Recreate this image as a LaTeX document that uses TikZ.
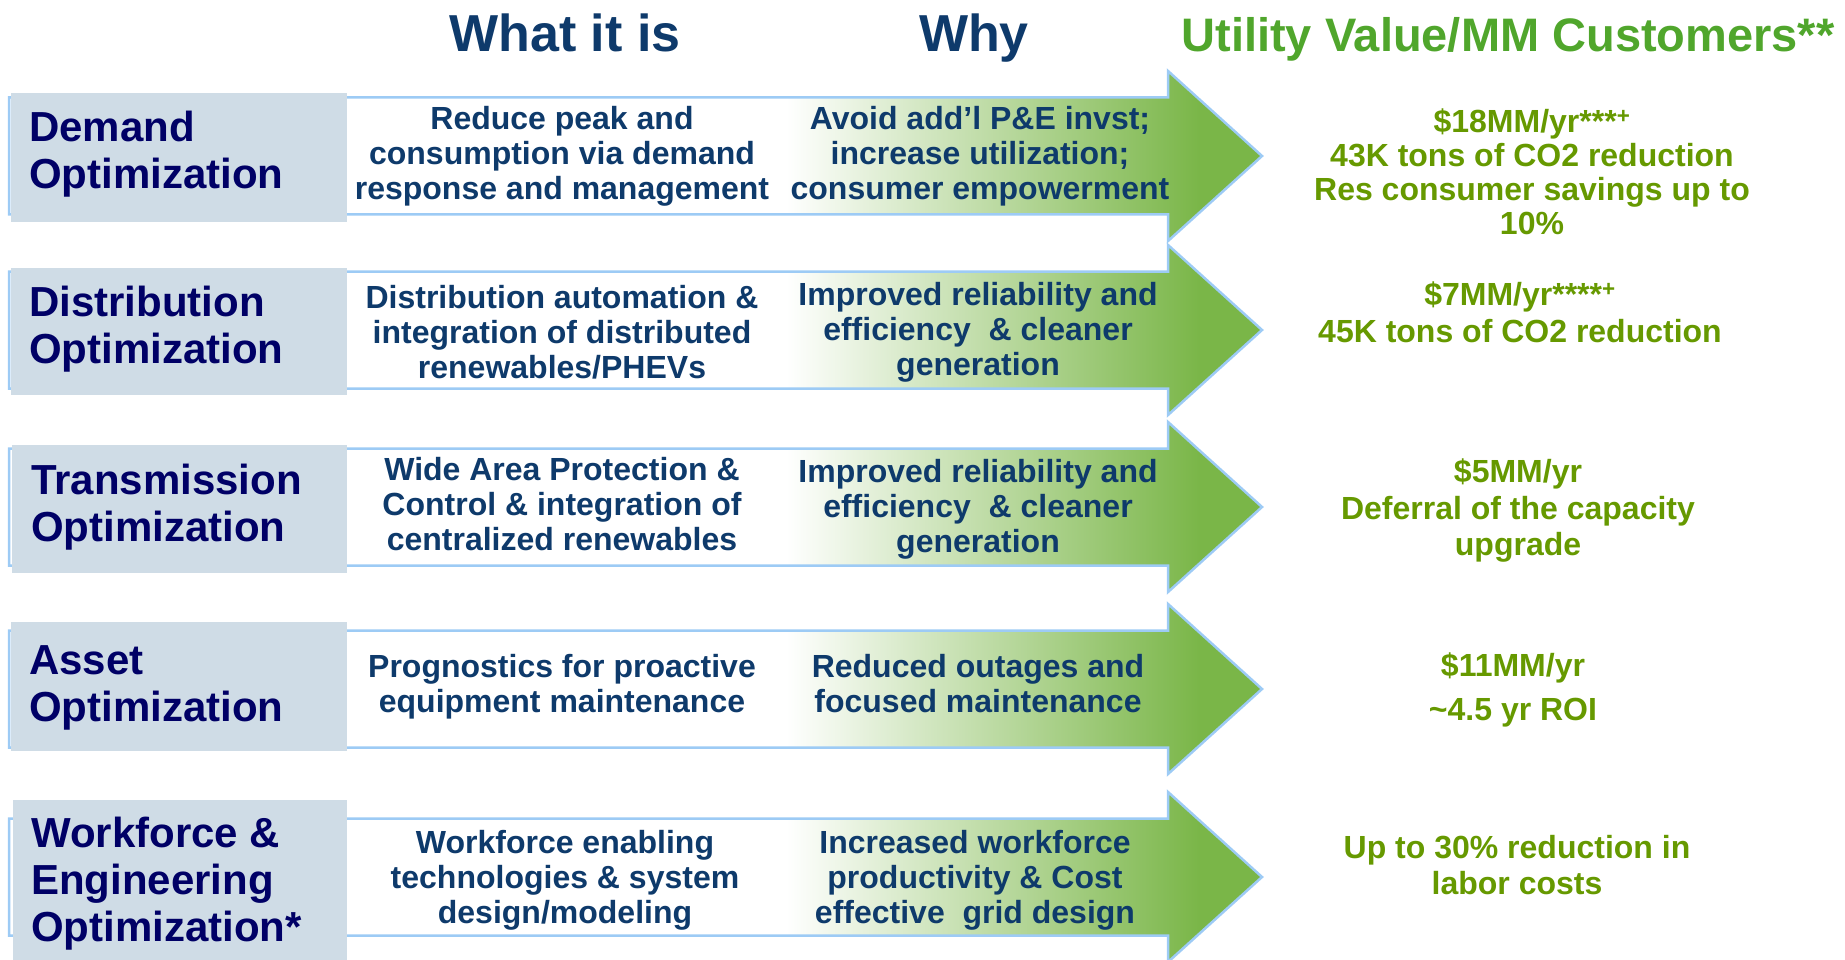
\documentclass[tikz,border=0pt]{standalone}
\usepackage{fontspec}
\setmainfont{Liberation Sans}
\usepackage{tikz}

\definecolor{rowgrey}{RGB}{207,220,230}
\definecolor{edgeblue}{RGB}{157,203,245}
\definecolor{arrowgreen}{RGB}{122,182,72}
\definecolor{labelnavy}{RGB}{0,0,102}
\definecolor{textnavy}{RGB}{14,58,107}
\definecolor{titlegreen}{RGB}{80,166,44}
\definecolor{valuegreen}{RGB}{102,153,0}
\pgfdeclarehorizontalshading{arrowfade}{100bp}{color(0bp)=(white); color(56bp)=(white); color(72.5bp)=(arrowgreen); color(100bp)=(arrowgreen)}

\begin{document}
\begin{tikzpicture}[x=1pt, y=-1pt,
  bigarrow/.style={draw=edgeblue, line width=2.5pt, shade, shading=arrowfade},
  rowbox/.style={fill=rowgrey},
  headtitle/.style={anchor=base, inner sep=0pt, text=textnavy, font=\bfseries\fontsize{52}{60}\selectfont},
  rowlabel/.style={anchor=west, align=left, inner sep=0pt, text=labelnavy, font=\bfseries\fontsize{42}{47}\selectfont},
  whatwhy/.style={align=center, inner sep=0pt, text=textnavy, font=\bfseries\fontsize{32}{35}\selectfont},
  valuetext/.style={align=center, inner sep=0pt, text=valuegreen, font=\bfseries\fontsize{32}{36.5}\selectfont}]
\useasboundingbox (0,0) rectangle (1845,960);

% arrows
\draw [bigarrow] (9,97.5) -- (1168,97.5) -- (1168,71) -- (1262,156) -- (1168,241) -- (1168,214.5) -- (9,214.5) -- cycle;
\draw [bigarrow] (9,271.5) -- (1168,271.5) -- (1168,245) -- (1262,330) -- (1168,415) -- (1168,388.5) -- (9,388.5) -- cycle;
\draw [bigarrow] (9,448.5) -- (1168,448.5) -- (1168,422) -- (1262,507) -- (1168,592) -- (1168,565.5) -- (9,565.5) -- cycle;
\draw [bigarrow] (9,630.5) -- (1168,630.5) -- (1168,604) -- (1262,689) -- (1168,774) -- (1168,747.5) -- (9,747.5) -- cycle;
\draw [bigarrow] (9,818.5) -- (1168,818.5) -- (1168,792) -- (1262,877) -- (1168,962) -- (1168,935.5) -- (9,935.5) -- cycle;

% grey label boxes
\fill [rowbox] (11,93) rectangle (347,222);
\fill [rowbox] (11,268) rectangle (347,395);
\fill [rowbox] (12,445) rectangle (347,573);
\fill [rowbox] (11,622) rectangle (347,751);
\fill [rowbox] (13,800) rectangle (347,960);

% column heads
\node [headtitle] (whatTitle) at (565,52) {What it is};
\node [headtitle] (whyTitle) at (974,52) {Why};
\node [headtitle, text=titlegreen, font=\bfseries\fontsize{47}{55}\selectfont] (valueTitle) at (1508,52) {Utility Value/MM Customers**};

% row labels
\node [rowlabel] (demandLabel) at (29,154) {Demand\\Optimization};
\node [rowlabel] (distLabel) at (29,329) {Distribution\\Optimization};
\node [rowlabel] (transLabel) at (31,507) {Transmission\\Optimization};
\node [rowlabel] (assetLabel) at (29,688) {Asset\\Optimization};
\node [rowlabel] (workLabel) at (31,884) {Workforce \&\\Engineering\\Optimization*};

% what it is
\node [whatwhy] (demandWhat) at (562,156) {Reduce peak and\\consumption via demand\\response and management};
\node [whatwhy] (distWhat) at (562,332) {Distribution automation \&\\integration of distributed\\renewables/PHEVs};
\node [whatwhy] (transWhat) at (562,504) {Wide Area Protection \&\\Control \& integration of\\centralized renewables};
\node [whatwhy] (assetWhat) at (562,687) {Prognostics for proactive\\equipment maintenance};
\node [whatwhy] (workWhat) at (565,880) {Workforce enabling\\technologies \& system\\design/modeling};

% why
\node [whatwhy] (demandWhy) at (980,156) {Avoid add’l P\&E invst;\\increase utilization;\\consumer empowerment};
\node [whatwhy] (distWhy) at (978,332) {Improved reliability and\\efficiency\ \ \& cleaner\\generation};
\node [whatwhy] (transWhy) at (978,509) {Improved reliability and\\efficiency\ \ \& cleaner\\generation};
\node [whatwhy] (assetWhy) at (978,684) {Reduced outages and\\focused maintenance};
\node [whatwhy] (workWhy) at (975,880) {Increased workforce\\productivity \& Cost\\effective\ \ grid design};

% utility value
\node [valuetext, font=\bfseries\fontsize{32}{34}\selectfont] (demandValue) at (1532,172) {\$18MM/yr***\textsuperscript{+}\\43K tons of CO2 reduction\\Res consumer savings up to\\10\%};
\node [valuetext, font=\bfseries\fontsize{32}{37}\selectfont] (distValue) at (1520,312) {\$7MM/yr****\textsuperscript{+}\\45K tons of CO2 reduction};
\node [valuetext] (transValue) at (1518,511) {\$5MM/yr\\Deferral of the capacity\\upgrade};
\node [valuetext, font=\bfseries\fontsize{32}{44}\selectfont] (assetValue) at (1513,690) {\$11MM/yr\\\textasciitilde4.5 yr ROI};
\node [valuetext] (workValue) at (1517,865) {Up to 30\% reduction in\\labor costs};
\end{tikzpicture}
\end{document}
